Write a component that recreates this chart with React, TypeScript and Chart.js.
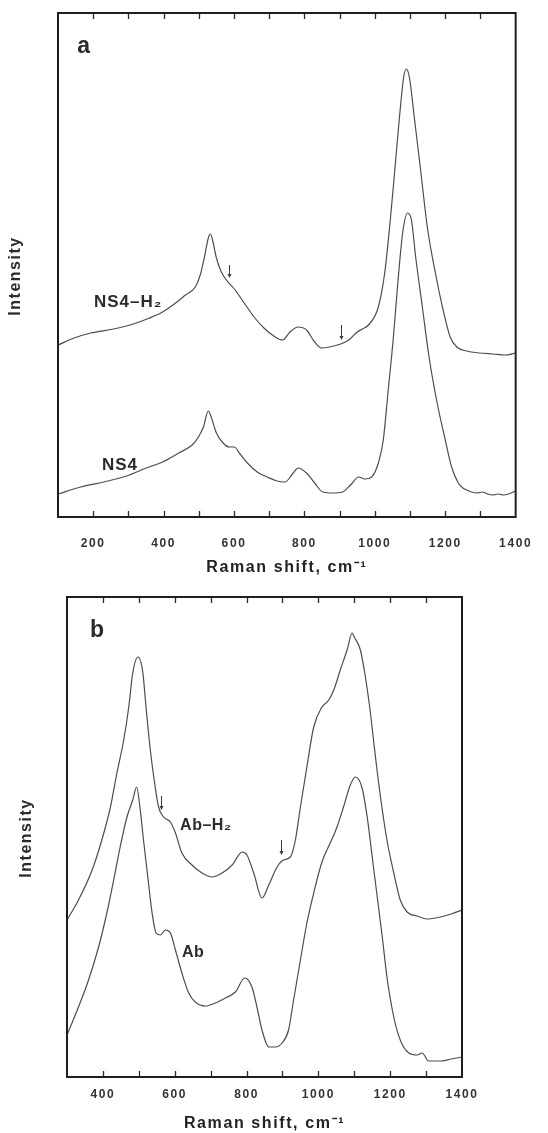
import React, { useEffect, useRef } from 'react';
import { Chart, registerables } from 'chart.js';

Chart.register(...registerables);

const FONT = '"Liberation Sans", Arial, Helvetica, sans-serif';

// ---------- Panel a : NS4 glass ----------
const ns4H2Shift = [100, 146, 193, 258, 314, 360, 397, 434, 462, 490, 504, 516, 527, 533, 541, 550, 564, 583, 601, 629, 657, 685, 713, 738, 759, 782, 806, 829, 848, 871, 903, 926, 950, 965, 982, 1010, 1028, 1042, 1056, 1070, 1082, 1089, 1098, 1112, 1131, 1149, 1172, 1196, 1214, 1233, 1261, 1298, 1335, 1370, 1400];
const ns4H2Intensity = [172, 179, 184, 188, 193, 199, 205, 214, 222, 230, 242, 260, 279, 283, 274, 259, 245, 235, 228, 214, 200, 189, 181, 177, 185, 190, 187, 175, 169, 170, 173, 177, 185, 188, 192, 210, 244, 290, 344, 400, 440, 448, 440, 400, 344, 290, 244, 204, 180, 170, 166, 164, 163, 162, 164];
const ns4Shift = [100, 165, 230, 295, 351, 397, 443, 481, 499, 513, 527, 536, 550, 569, 587, 601, 615, 638, 666, 694, 722, 745, 768, 782, 806, 829, 852, 880, 908, 931, 954, 972, 991, 1010, 1024, 1038, 1052, 1066, 1079, 1093, 1104, 1116, 1135, 1154, 1177, 1200, 1218, 1237, 1250, 1261, 1275, 1290, 1305, 1320, 1335, 1350, 1365, 1380, 1400];
const ns4Intensity = [23, 30, 35, 41, 49, 55, 64, 72, 80, 90, 106, 99, 84, 74, 70, 70, 64, 54, 45, 40, 36, 35, 44, 49, 44, 34, 25, 24, 25, 32, 40, 38, 40, 54, 77, 127, 177, 237, 284, 304, 297, 260, 210, 160, 114, 77, 50, 34, 29, 27, 25, 24, 25, 23, 22, 23, 22, 23, 26];
const panelATickValues = [100, 200, 300, 400, 500, 600, 700, 800, 900, 1000, 1100, 1200, 1300, 1400];
const panelATickLabels = [200, 400, 600, 800, 1000, 1200, 1400];
const ns4H2ArrowShifts = [587, 905];

// ---------- Panel b : albite glass ----------
const abH2Shift = [300, 332, 370, 397, 421, 439, 458, 472, 483, 498, 511, 520, 532, 544, 555, 569, 588, 602, 620, 648, 676, 704, 732, 760, 788, 801, 820, 843, 862, 885, 903, 922, 936, 950, 968, 987, 1010, 1029, 1043, 1061, 1080, 1094, 1100, 1117, 1131, 1145, 1159, 1173, 1191, 1210, 1228, 1247, 1275, 1303, 1340, 1370, 1400];
const abH2Intensity = [157, 177, 207, 237, 270, 304, 337, 370, 404, 420, 405, 370, 327, 294, 270, 260, 255, 244, 224, 212, 204, 200, 204, 212, 225, 222, 204, 179, 192, 210, 217, 220, 237, 270, 310, 350, 370, 377, 387, 407, 427, 444, 440, 427, 400, 364, 320, 280, 237, 204, 177, 165, 161, 158, 160, 163, 167];
const abShift = [300, 332, 360, 388, 411, 430, 448, 467, 483, 494, 503, 513, 526, 537, 548, 560, 574, 588, 602, 620, 639, 657, 685, 713, 741, 769, 795, 815, 829, 843, 862, 880, 899, 917, 931, 950, 968, 987, 1010, 1033, 1052, 1070, 1089, 1103, 1121, 1136, 1150, 1164, 1178, 1191, 1210, 1228, 1252, 1275, 1289, 1307, 1340, 1370, 1400];
const abIntensity = [42, 70, 97, 130, 164, 197, 230, 260, 277, 290, 270, 237, 197, 164, 144, 142, 147, 144, 127, 104, 84, 75, 71, 74, 79, 85, 99, 90, 70, 47, 30, 30, 34, 47, 77, 117, 154, 184, 215, 234, 250, 270, 292, 300, 290, 260, 220, 180, 140, 100, 60, 37, 24, 22, 24, 16, 16, 18, 20];
const panelBTickValues = [300, 400, 500, 600, 700, 800, 900, 1000, 1100, 1200, 1300, 1400];
const panelBTickLabels = [400, 600, 800, 1000, 1200, 1400];
const abH2ArrowShifts = [562, 897];

const X_TITLE = 'Raman shift, cm⁻¹';
const Y_TITLE = 'Intensity';

type Note = { text: string; x: number; y: number; size: number; spacing: number };
type Arrow = { x: number; from: number; to: number };

type PanelSpec = {
  top: number;
  width: number;
  height: number;
  padding: { top: number; left: number; right: number };
  axisHeight: number;
  tickPadding: number;
  titlePadBottom: number;
  xMin: number;
  xMax: number;
  yMax: number;
  tickValues: number[];
  tickLabels: number[];
  series: { shift: number[]; intensity: number[] }[];
  notes: Note[];
  arrows: Arrow[];
  yTitle: { x: number; y: number };
};

const panelA: PanelSpec = {
  top: 0,
  width: 548,
  height: 585,
  padding: { top: 13, left: 58, right: 22 },
  axisHeight: 68,
  tickPadding: 19,
  titlePadBottom: 8,
  xMin: 100,
  xMax: 1400,
  yMax: 504,
  tickValues: panelATickValues,
  tickLabels: panelATickLabels,
  series: [
    { shift: ns4H2Shift, intensity: ns4H2Intensity },
    { shift: ns4Shift, intensity: ns4Intensity },
  ],
  notes: [
    { text: 'a', x: 155, y: 464, size: 23, spacing: 0 },
    { text: 'NS4–H₂', x: 202, y: 210, size: 17, spacing: 1 },
    { text: 'NS4', x: 225, y: 47, size: 17, spacing: 1 },
  ],
  arrows: [
    { x: ns4H2ArrowShifts[0], from: 252, to: 239 },
    { x: ns4H2ArrowShifts[1], from: 192, to: 177 },
  ],
  yTitle: { x: 16, y: 276 },
};

const panelB: PanelSpec = {
  top: 585,
  width: 548,
  height: 548,
  padding: { top: 12, left: 67, right: 86 },
  axisHeight: 56,
  tickPadding: 10,
  titlePadBottom: 0,
  xMin: 300,
  xMax: 1400,
  yMax: 480,
  tickValues: panelBTickValues,
  tickLabels: panelBTickLabels,
  series: [
    { shift: abH2Shift, intensity: abH2Intensity },
    { shift: abShift, intensity: abIntensity },
  ],
  notes: [
    { text: 'b', x: 364, y: 440, size: 23, spacing: 0 },
    { text: 'Ab–H₂', x: 615, y: 247, size: 16, spacing: 0.5 },
    { text: 'Ab', x: 620, y: 120, size: 16, spacing: 0.5 },
  ],
  arrows: [
    { x: abH2ArrowShifts[0], from: 281, to: 267 },
    { x: abH2ArrowShifts[1], from: 237, to: 222 },
  ],
  yTitle: { x: 27, y: 253 },
};

function decorPlugin(spec: PanelSpec) {
  return {
    id: 'decor',
    beforeDraw(chart: any) {
      (chart.ctx as any).letterSpacing = '1.6px';
    },
    afterDraw(chart: any) {
      const ctx: CanvasRenderingContext2D = chart.ctx;
      const { left, right, top, bottom } = chart.chartArea;
      const xs = chart.scales.x;
      const ys = chart.scales.y;
      ctx.save();
      (ctx as any).letterSpacing = '0px';
      // inner tick marks, bottom and top
      ctx.strokeStyle = '#2a2a2a';
      ctx.lineWidth = 1.3;
      ctx.beginPath();
      xs.ticks.forEach((t: any) => {
        if (t.value <= spec.xMin || t.value >= spec.xMax) return;
        const px = Math.round(xs.getPixelForValue(t.value)) + 0.5;
        ctx.moveTo(px, bottom);
        ctx.lineTo(px, bottom - 6);
        ctx.moveTo(px, top);
        ctx.lineTo(px, top + 6);
      });
      ctx.stroke();
      // frame
      ctx.strokeStyle = '#1e1e1e';
      ctx.lineWidth = 2;
      ctx.strokeRect(left, top, right - left, bottom - top);
      // arrows
      ctx.strokeStyle = '#3a3a3a';
      ctx.fillStyle = '#3a3a3a';
      ctx.lineWidth = 1;
      spec.arrows.forEach((a) => {
        const px = Math.round(xs.getPixelForValue(a.x)) + 0.5;
        const y0 = ys.getPixelForValue(a.from);
        const y1 = ys.getPixelForValue(a.to);
        ctx.beginPath();
        ctx.moveTo(px, y0);
        ctx.lineTo(px, y1 - 3);
        ctx.stroke();
        ctx.beginPath();
        ctx.moveTo(px - 2, y1 - 4);
        ctx.lineTo(px + 2, y1 - 4);
        ctx.lineTo(px, y1);
        ctx.closePath();
        ctx.fill();
      });
      // notes
      ctx.fillStyle = '#2b2b2b';
      ctx.textBaseline = 'alphabetic';
      ctx.textAlign = 'left';
      spec.notes.forEach((n) => {
        ctx.font = `bold ${n.size}px ${FONT}`;
        (ctx as any).letterSpacing = `${n.spacing}px`;
        ctx.fillText(n.text, xs.getPixelForValue(n.x), ys.getPixelForValue(n.y));
      });
      // y title
      ctx.translate(spec.yTitle.x, spec.yTitle.y);
      ctx.rotate(-Math.PI / 2);
      ctx.font = `bold 16px ${FONT}`;
      (ctx as any).letterSpacing = '1.5px';
      ctx.textAlign = 'center';
      ctx.textBaseline = 'middle';
      ctx.fillText(Y_TITLE, 0, 0);
      ctx.restore();
      (ctx as any).letterSpacing = '0px';
    },
  };
}

function Panel({ spec }: { spec: PanelSpec }) {
  const ref = useRef<HTMLCanvasElement>(null);
  useEffect(() => {
    const canvas = ref.current;
    if (!canvas) return;
    const chart = new Chart(canvas, {
      type: 'line',
      data: {
        datasets: spec.series.map((s) => ({
          data: s.shift.map((x, i) => ({ x, y: s.intensity[i] })),
          borderColor: '#4d4d4d',
          borderWidth: 1.2,
          pointRadius: 0,
          fill: false,
          cubicInterpolationMode: 'monotone' as const,
        })),
      },
      options: {
        responsive: false,
        animation: false,
        devicePixelRatio: 1,
        events: [],
        layout: { padding: { ...spec.padding, bottom: 0 } },
        plugins: { legend: { display: false }, tooltip: { enabled: false } },
        scales: {
          x: {
            type: 'linear',
            min: spec.xMin,
            max: spec.xMax,
            afterBuildTicks: (scale: any) => {
              scale.ticks = spec.tickValues.map((v) => ({ value: v }));
            },
            afterFit: (scale: any) => {
              scale.height = spec.axisHeight;
            },
            ticks: {
              autoSkip: false,
              maxRotation: 0,
              minRotation: 0,
              padding: spec.tickPadding,
              color: '#333',
              font: { family: FONT, size: 12, weight: 'bold' },
              callback: (v: any) => (spec.tickLabels.includes(Number(v)) ? String(v) : ''),
            },
            grid: { display: false, drawTicks: false },
            border: { display: false },
            title: {
              display: true,
              text: X_TITLE,
              color: '#222',
              font: { family: FONT, size: 16, weight: 'bold' },
              padding: { top: 0, bottom: spec.titlePadBottom },
            },
          },
          y: { display: false, min: 0, max: spec.yMax },
        },
      } as any,
      plugins: [decorPlugin(spec)],
    });
    return () => chart.destroy();
  }, [spec]);
  return (
    <canvas
      ref={ref}
      width={spec.width}
      height={spec.height}
      style={{ position: 'absolute', left: 0, top: spec.top, width: spec.width, height: spec.height }}
    />
  );
}

export default function App() {
  return (
    <div style={{ position: 'absolute', left: 0, top: 0, width: 548, height: 1133, background: '#fff' }}>
      <Panel spec={panelA} />
      <Panel spec={panelB} />
    </div>
  );
}
